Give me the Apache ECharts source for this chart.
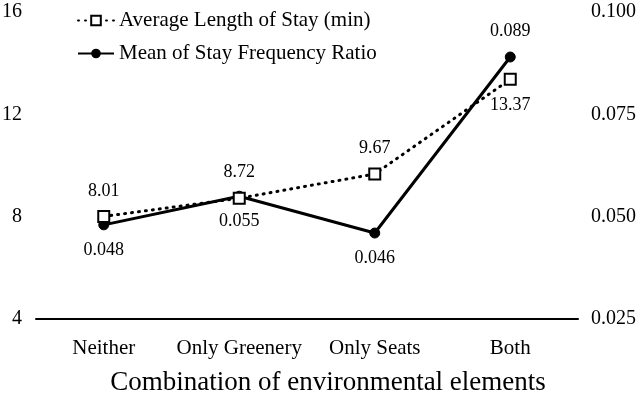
<!DOCTYPE html>
<html>
<head>
<meta charset="utf-8">
<script src="https://cdn.jsdelivr.net/npm/echarts@6/dist/echarts.min.js"></script>
<style>
  html, body { margin: 0; padding: 0; background: #fff; }
  #chart { width: 640px; height: 399px; }
</style>
</head>
<body>
<div id="chart"></div>
<script>
var categories = ["Neither", "Only Greenery", "Only Seats", "Both"];
var stayLength = [8.01, 8.72, 9.67, 13.37];
var stayRatio = [0.048, 0.055, 0.046, 0.089];
var leftTicks = [4, 16, 4];      // min, max, interval
var rightTicks = [0.025, 0.1, 0.025];

var font = "'Liberation Serif', 'Times New Roman', serif";
var chart = echarts.init(document.getElementById("chart"));

// last point flips label side, as in the figure
var lengthData = stayLength.map(function (v, i) {
  return { value: v, label: { position: i === stayLength.length - 1 ? "bottom" : "top" } };
});
var ratioData = stayRatio.map(function (v, i) {
  return { value: v, label: { position: i === stayRatio.length - 1 ? "top" : "bottom" } };
});

chart.setOption({
  animation: false,
  textStyle: { fontFamily: font, color: "#000" },
  grid: { left: 36, right: 62, top: 12, bottom: 80, outerBoundsMode: "none", containLabel: false },
  legend: {
    left: 72,
    top: 5,
    orient: "vertical",
    itemGap: 12,
    itemWidth: 36,
    itemHeight: 12,
    textStyle: { fontFamily: font, fontSize: 21, color: "#000" },
    data: ["Average Length of Stay (min)", "Mean of Stay Frequency Ratio"]
  },
  xAxis: {
    type: "category",
    data: categories,
    name: "Combination of environmental elements",
    nameLocation: "middle",
    nameGap: 50,
    nameTextStyle: { fontFamily: font, fontSize: 27, color: "#000", padding: [0, 0, 0, 42] },
    axisLine: { lineStyle: { color: "#000", width: 2 } },
    axisTick: { alignWithLabel: true, length: 5, lineStyle: { color: "#000", width: 2 } },
    axisLabel: { fontFamily: font, fontSize: 21, color: "#000", margin: 19, interval: 0 }
  },
  yAxis: [
    {
      type: "value",
      min: leftTicks[0], max: leftTicks[1], interval: leftTicks[2],
      axisLine: { show: false }, axisTick: { show: false }, splitLine: { show: false },
      axisLabel: { fontFamily: font, fontSize: 20, color: "#000", margin: 14 }
    },
    {
      type: "value",
      min: rightTicks[0], max: rightTicks[1], interval: rightTicks[2],
      axisLine: { show: false }, axisTick: { show: false }, splitLine: { show: false },
      axisLabel: {
        fontFamily: font, fontSize: 20, color: "#000", margin: 13,
        formatter: function (v) { return v.toFixed(3); }
      }
    }
  ],
  series: [
    {
      name: "Average Length of Stay (min)",
      type: "line",
      yAxisIndex: 0,
      data: lengthData,
      symbol: "rect",
      symbolSize: 11,
      itemStyle: { color: "#fff", borderColor: "#000", borderWidth: 2 },
      lineStyle: { color: "#000", width: 3, type: [1, 6], cap: "round" },
      label: { show: true, fontFamily: font, fontSize: 18, color: "#000", distance: 10 },
      z: 3
    },
    {
      name: "Mean of Stay Frequency Ratio",
      type: "line",
      yAxisIndex: 1,
      data: ratioData,
      symbol: "circle",
      symbolSize: 10,
      itemStyle: { color: "#000", borderColor: "#000" },
      lineStyle: { color: "#000", width: 3 },
      label: {
        show: true, fontFamily: font, fontSize: 18, color: "#000", distance: 11,
        formatter: function (p) { return p.value.toFixed(3); }
      },
      z: 2
    }
  ]
});
</script>
</body>
</html>
